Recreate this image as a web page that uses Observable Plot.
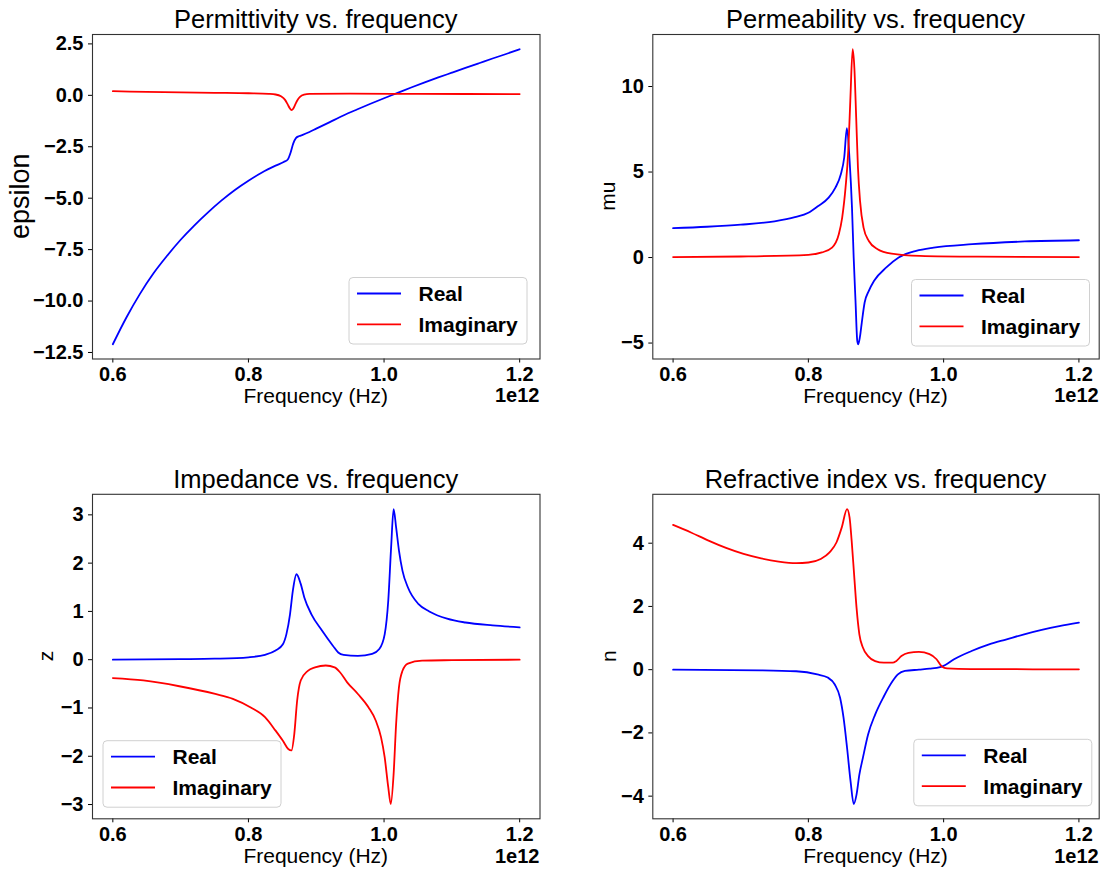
<!DOCTYPE html>
<html>
<head>
<meta charset="utf-8">
<script src="https://cdn.jsdelivr.net/npm/d3@7"></script>
<script src="https://cdn.jsdelivr.net/npm/@observablehq/plot@0.6"></script>
<style>
  html, body { margin: 0; padding: 0; background: #fff; overflow: hidden; }
  #figure { position: relative; width: 1102px; height: 869px; background: #fff; }
  #figure svg { position: absolute; }
</style>
</head>
<body>
<div id="figure"></div>
<script>
// Frequencies are in units of 1e12 Hz (the axis offset shown as "1e12").
const xTicks = [0.6, 0.8, 1.0, 1.2];
const seriesNames = ["Real", "Imaginary"];
const seriesColors = ["#0000ff", "#ff0000"];

// Permittivity
const epsReF = [0.60,0.62,0.64,0.66,0.68,0.70,0.72,0.74,0.76,0.78,0.80,0.82,0.84,0.852,0.858,0.862,0.866,0.870,0.875,0.88,0.89,0.90,0.92,0.94,0.96,0.98,1.00,1.02,1.04,1.06,1.08,1.10,1.12,1.14,1.16,1.18,1.20];
const epsRe  = [-12.10,-10.80,-9.65,-8.65,-7.80,-7.02,-6.33,-5.70,-5.12,-4.60,-4.15,-3.75,-3.42,-3.24,-3.12,-2.80,-2.35,-2.08,-1.98,-1.92,-1.78,-1.62,-1.30,-0.98,-0.69,-0.41,-0.14,0.12,0.38,0.63,0.87,1.10,1.33,1.56,1.79,2.01,2.24];
const epsImF = [0.60,0.65,0.70,0.75,0.80,0.83,0.84,0.848,0.854,0.858,0.861,0.8635,0.866,0.869,0.872,0.876,0.882,0.89,0.95,1.05,1.20];
const epsIm  = [0.20,0.17,0.14,0.12,0.10,0.07,0.04,-0.05,-0.22,-0.45,-0.63,-0.72,-0.65,-0.45,-0.25,-0.08,0.03,0.07,0.08,0.07,0.06];
const epsTicks = [2.5, 0, -2.5, -5, -7.5, -10, -12.5];

// Permeability
const muReF = [0.60,0.65,0.70,0.75,0.78,0.80,0.814,0.83,0.84,0.848,0.853,0.857,0.861,0.8645,0.867,0.8697,0.8723,0.8738,0.8764,0.879,0.8832,0.8894,0.8972,0.9153,0.9335,0.9594,0.9853,1.0424,1.12,1.20];
const muRe  = [1.72,1.80,1.92,2.12,2.36,2.62,3.00,3.50,4.09,4.87,5.85,7.56,5.65,2.92,0.00,-2.53,-4.87,-5.07,-4.60,-3.80,-2.63,-1.95,-1.36,-0.58,0.00,0.39,0.58,0.78,0.94,1.01];
const muImF = [0.60,0.70,0.80,0.82,0.835,0.845,0.85,0.855,0.859,0.862,0.8655,0.868,0.8707,0.8733,0.8764,0.8816,0.8894,0.9023,0.923,0.9646,1.05,1.20];
const muIm  = [0.03,0.06,0.16,0.30,0.58,1.36,2.34,4.10,6.24,9.16,12.18,11.10,8.19,5.26,3.31,1.75,0.97,0.49,0.23,0.10,0.05,0.03];
const muTicks = [10, 5, 0, -5];

// Impedance
const zReF = [0.60,0.70,0.75,0.80,0.8244,0.84,0.8508,0.856,0.8613,0.8655,0.8708,0.8771,0.8824,0.8929,0.9087,0.9245,0.9324,0.9403,0.9614,0.9825,0.993,1.001,1.0062,1.0104,1.0141,1.0178,1.022,1.0272,1.0351,1.0509,1.0667,1.093,1.12,1.16,1.20];
const zRe  = [0.00,0.01,0.02,0.05,0.10,0.19,0.32,0.53,0.94,1.43,1.77,1.57,1.29,0.94,0.60,0.29,0.15,0.10,0.08,0.12,0.22,0.53,1.22,2.32,3.12,2.74,2.26,1.84,1.50,1.15,1.00,0.85,0.77,0.71,0.67];
const zImF = [0.60,0.645,0.698,0.751,0.777,0.8034,0.8244,0.840,0.8508,0.8587,0.8634,0.8676,0.8718,0.8771,0.8876,0.8982,0.914,0.9271,0.935,0.9456,0.9614,0.9772,0.9877,0.9956,1.0009,1.0062,1.0099,1.0141,1.0178,1.022,1.0272,1.0351,1.0562,1.10,1.20];
const zIm  = [-0.38,-0.43,-0.55,-0.71,-0.81,-0.99,-1.19,-1.47,-1.68,-1.85,-1.88,-1.54,-0.85,-0.43,-0.23,-0.16,-0.12,-0.16,-0.26,-0.47,-0.71,-0.99,-1.26,-1.61,-2.02,-2.64,-2.99,-2.37,-1.33,-0.57,-0.23,-0.08,-0.02,-0.01,0.00];
const zTicks = [3, 2, 1, 0, -1, -2, -3];

// Refractive index
const nReF = [0.60,0.73,0.782,0.8132,0.8287,0.8391,0.8469,0.852,0.8572,0.8624,0.8671,0.8712,0.8754,0.8806,0.8883,0.8987,0.9117,0.9246,0.9324,0.9428,0.9635,0.9791,0.9947,1.0024,1.0154,1.0413,1.0672,1.0932,1.1191,1.145,1.171,1.20];
const nRe  = [0.00,-0.02,-0.05,-0.15,-0.25,-0.47,-0.89,-1.52,-2.47,-3.53,-4.25,-3.95,-3.32,-2.79,-2.05,-1.42,-0.84,-0.36,-0.15,-0.04,0.00,0.03,0.08,0.15,0.33,0.59,0.80,0.96,1.12,1.26,1.38,1.49];
const nImF = [0.60,0.6264,0.6524,0.6783,0.7042,0.7302,0.7561,0.782,0.80,0.8183,0.8313,0.8417,0.8494,0.8572,0.8609,0.864,0.8676,0.8712,0.8754,0.8806,0.8883,0.8987,0.9117,0.9246,0.9298,0.9376,0.948,0.9635,0.9791,0.9895,0.9973,1.005,1.04,1.20];
const nIm  = [4.58,4.34,4.08,3.85,3.66,3.52,3.42,3.37,3.39,3.50,3.71,4.03,4.50,5.08,4.82,4.08,3.02,1.97,1.12,0.70,0.43,0.27,0.22,0.22,0.27,0.43,0.53,0.56,0.49,0.33,0.10,0.04,0.02,0.01];
const nTicks = [4, 2, 0, -2, -4];

const FONT = "'Liberation Sans', Arial, Helvetica, sans-serif";

// Panel placement on the page (svg box and inner plot margins)
const cols = [
  {left: 0,   width: 560, ml: 92,   mr: 20.5},
  {left: 560, width: 542, ml: 92.3, mr: 3.3}
];
const rowsLayout = [
  {top: 0,   height: 440, mt: 34,   mb: 81.5, titleY: 28.3, xlabelY: 403,  offsetY: 402.3},
  {top: 440, height: 429, mt: 53.8, mb: 50.7, titleY: 48,   xlabelY: 423,  offsetY: 422.5}
];

const panels = [
  {col: 0, row: 0, title: "Permittivity vs. frequency", ylabel: "epsilon", ylabelSize: 27, ylabelX: 28.7,
   reF: epsReF, re: epsRe, imF: epsImF, im: epsIm, yTicks: epsTicks, yFormat: d3.format(".1f"), legend: [349, 277.5]},
  {col: 1, row: 0, title: "Permeability vs. frequency", ylabel: "mu", ylabelSize: 21, ylabelX: 54.8,
   reF: muReF, re: muRe, imF: muImF, im: muIm, yTicks: muTicks, yFormat: d3.format("d"), legend: [351.5, 279.5]},
  {col: 0, row: 1, title: "Impedance vs. frequency", ylabel: "z", ylabelSize: 21, ylabelX: 53,
   reF: zReF, re: zRe, imF: zImF, im: zIm, yTicks: zTicks, yFormat: d3.format("d"), legend: [103, 300.7]},
  {col: 1, row: 1, title: "Refractive index vs. frequency", ylabel: "n", ylabelSize: 21, ylabelX: 55.5,
   reF: nReF, re: nRe, imF: nImF, im: nIm, yTicks: nTicks, yFormat: d3.format("d"), legend: [353.8, 299.3]}
];

const figure = document.getElementById("figure");

for (const p of panels) {
  const c = cols[p.col], r = rowsLayout[p.row];
  const rows = [
    ...p.reF.map((f, i) => ({f, v: p.re[i], part: seriesNames[0]})),
    ...p.imF.map((f, i) => ({f, v: p.im[i], part: seriesNames[1]}))
  ];
  // matplotlib-style 5% padding around the data extent
  const [ylo, yhi] = d3.extent(rows, d => d.v);
  const [xlo, xhi] = d3.extent(rows, d => d.f);
  const yp = 0.05 * (yhi - ylo), xp = 0.05 * (xhi - xlo);

  const svg = Plot.plot({
    width: c.width,
    height: r.height,
    marginLeft: c.ml, marginRight: c.mr, marginTop: r.mt, marginBottom: r.mb,
    style: {fontFamily: FONT, background: "transparent", overflow: "visible", color: "#000"},
    x: {domain: [xlo - xp, xhi + xp]},
    y: {domain: [ylo - yp, yhi + yp]},
    color: {domain: seriesNames, range: seriesColors},
    marks: [
      Plot.line(rows, {x: "f", y: "v", z: "part", stroke: "part", strokeWidth: 1.8, curve: "monotone-x"}),
      Plot.axisX({ticks: xTicks, tickFormat: d3.format(".1f"), tickSize: 4, tickPadding: 4,
                  fontSize: 20, fontWeight: "bold", label: null}),
      Plot.axisY({ticks: p.yTicks, tickFormat: p.yFormat, tickSize: 4, tickPadding: 5,
                  fontSize: 20, fontWeight: "bold", label: null}),
      Plot.frame({stroke: "#333", strokeWidth: 1.1})
    ]
  });
  svg.style.left = c.left + "px";
  svg.style.top = r.top + "px";
  figure.appendChild(svg);

  const g = d3.select(svg).append("g").attr("font-family", FONT).attr("fill", "#000");
  const frameL = c.ml, frameR = c.width - c.mr;
  const frameT = r.mt, frameB = r.height - r.mb;
  const cx = (frameL + frameR) / 2, cy = (frameT + frameB) / 2;

  // title
  g.append("text").attr("x", cx).attr("y", r.titleY).attr("text-anchor", "middle")
    .attr("font-size", 25.5).text(p.title);
  // x label and offset
  g.append("text").attr("x", cx).attr("y", r.xlabelY).attr("text-anchor", "middle")
    .attr("font-size", 21).text("Frequency (Hz)");
  g.append("text").attr("x", frameR).attr("y", r.offsetY).attr("text-anchor", "end")
    .attr("font-size", 20).attr("font-weight", "bold").text("1e12");
  // y label
  g.append("text").attr("transform", `translate(${p.ylabelX},${cy}) rotate(-90)`)
    .attr("text-anchor", "middle").attr("font-size", p.ylabelSize).text(p.ylabel);

  // legend
  const [lx, ly] = p.legend;
  const lg = g.append("g").attr("transform", `translate(${lx},${ly})`);
  lg.append("rect").attr("width", 178).attr("height", 66.5).attr("rx", 4)
    .attr("fill", "#fff").attr("fill-opacity", 0.8).attr("stroke", "#d0d0d0").attr("stroke-width", 1);
  seriesNames.forEach((name, i) => {
    const yy = 16 + i * 30.8;
    lg.append("line").attr("x1", 8).attr("x2", 52).attr("y1", yy).attr("y2", yy)
      .attr("stroke", seriesColors[i]).attr("stroke-width", 1.8);
    lg.append("text").attr("x", 69.5).attr("y", yy + 7.5).attr("text-anchor", "start")
      .attr("font-size", 21).attr("font-weight", "bold").text(name);
  });
}
</script>
</body>
</html>
